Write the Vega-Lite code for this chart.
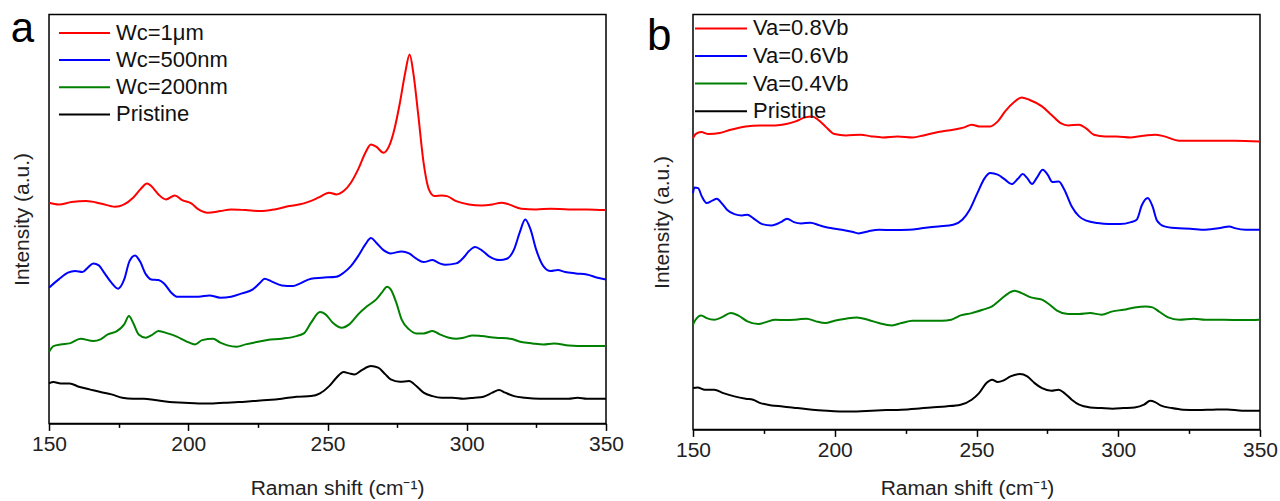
{
"$schema": "https://vega.github.io/schema/vega-lite/v6.json",
"padding": {"left": 10, "top": 7.4, "right": 5, "bottom": 5},
"bounds": "flush",
"spacing": 87,
"background": "white",
"config": {
  "font": "Liberation Sans",
  "view": {"stroke": "#000", "strokeWidth": 1.5},
  "axis": {"grid": false}
},
"resolve": {"scale": {"color": "independent", "y": "independent"}, "legend": {"color": "independent"}},
"datasets": {
"a": [
{"x":150,"y":220.7,"s":"Wc=1μm"},{"x":153.5,"y":219,"s":"Wc=1μm"},{"x":158.1,"y":221.3,"s":"Wc=1μm"},{"x":163.3,"y":222.3,"s":"Wc=1μm"},{"x":168.5,"y":220,"s":"Wc=1μm"},{"x":173.7,"y":216.7,"s":"Wc=1μm"},{"x":180.2,"y":225.7,"s":"Wc=1μm"},{"x":182.8,"y":234,"s":"Wc=1μm"},{"x":185.2,"y":240,"s":"Wc=1μm"},{"x":186.7,"y":237.3,"s":"Wc=1μm"},{"x":189.3,"y":229,"s":"Wc=1μm"},{"x":192,"y":224,"s":"Wc=1μm"},{"x":195.2,"y":228,"s":"Wc=1μm"},{"x":197.8,"y":223.3,"s":"Wc=1μm"},{"x":201.1,"y":220,"s":"Wc=1μm"},{"x":203.7,"y":214,"s":"Wc=1μm"},{"x":206.9,"y":210.7,"s":"Wc=1μm"},{"x":211.5,"y":212.3,"s":"Wc=1μm"},{"x":215.4,"y":214,"s":"Wc=1μm"},{"x":220.6,"y":213.3,"s":"Wc=1μm"},{"x":225.8,"y":212.3,"s":"Wc=1μm"},{"x":231,"y":214,"s":"Wc=1μm"},{"x":236.3,"y":217.3,"s":"Wc=1μm"},{"x":241.5,"y":220,"s":"Wc=1μm"},{"x":246.7,"y":225.7,"s":"Wc=1μm"},{"x":250.6,"y":230.7,"s":"Wc=1μm"},{"x":253.2,"y":229,"s":"Wc=1μm"},{"x":255.8,"y":232.3,"s":"Wc=1μm"},{"x":258.4,"y":240.7,"s":"Wc=1μm"},{"x":261,"y":254,"s":"Wc=1μm"},{"x":263.6,"y":270.7,"s":"Wc=1μm"},{"x":265.6,"y":279,"s":"Wc=1μm"},{"x":267.5,"y":276.7,"s":"Wc=1μm"},{"x":270.1,"y":270.7,"s":"Wc=1μm"},{"x":272.1,"y":277.3,"s":"Wc=1μm"},{"x":274,"y":294,"s":"Wc=1μm"},{"x":276,"y":320.7,"s":"Wc=1μm"},{"x":277.9,"y":350.7,"s":"Wc=1μm"},{"x":279.5,"y":369,"s":"Wc=1μm"},{"x":280.8,"y":350.7,"s":"Wc=1μm"},{"x":282.5,"y":310.7,"s":"Wc=1μm"},{"x":284.5,"y":260.7,"s":"Wc=1μm"},{"x":286.4,"y":234,"s":"Wc=1μm"},{"x":288.4,"y":227.3,"s":"Wc=1μm"},{"x":291,"y":228,"s":"Wc=1μm"},{"x":292.9,"y":227.3,"s":"Wc=1μm"},{"x":296.2,"y":222.3,"s":"Wc=1μm"},{"x":300.8,"y":219,"s":"Wc=1μm"},{"x":305.3,"y":218,"s":"Wc=1μm"},{"x":309.2,"y":219,"s":"Wc=1μm"},{"x":312.5,"y":220.7,"s":"Wc=1μm"},{"x":315.1,"y":219,"s":"Wc=1μm"},{"x":319.6,"y":214.7,"s":"Wc=1μm"},{"x":324.9,"y":214,"s":"Wc=1μm"},{"x":330.1,"y":214.7,"s":"Wc=1μm"},{"x":336.6,"y":214,"s":"Wc=1μm"},{"x":343.1,"y":214,"s":"Wc=1μm"},{"x":350,"y":213.3,"s":"Wc=1μm"},
{"x":150,"y":135.7,"s":"Wc=500nm"},{"x":153.5,"y":144,"s":"Wc=500nm"},{"x":156.8,"y":150.7,"s":"Wc=500nm"},{"x":159.4,"y":152.3,"s":"Wc=500nm"},{"x":162,"y":151.3,"s":"Wc=500nm"},{"x":163.9,"y":155.7,"s":"Wc=500nm"},{"x":165.9,"y":160,"s":"Wc=500nm"},{"x":167.9,"y":158,"s":"Wc=500nm"},{"x":169.8,"y":150.7,"s":"Wc=500nm"},{"x":172.4,"y":140.7,"s":"Wc=500nm"},{"x":174.8,"y":134.7,"s":"Wc=500nm"},{"x":177,"y":144,"s":"Wc=500nm"},{"x":178.9,"y":162.3,"s":"Wc=500nm"},{"x":180.9,"y":168,"s":"Wc=500nm"},{"x":182.6,"y":162.3,"s":"Wc=500nm"},{"x":184.8,"y":149,"s":"Wc=500nm"},{"x":186.7,"y":144,"s":"Wc=500nm"},{"x":189.3,"y":143.3,"s":"Wc=500nm"},{"x":191.3,"y":140,"s":"Wc=500nm"},{"x":193.9,"y":130.7,"s":"Wc=500nm"},{"x":195.9,"y":126.7,"s":"Wc=500nm"},{"x":199.8,"y":126.7,"s":"Wc=500nm"},{"x":203.7,"y":126.7,"s":"Wc=500nm"},{"x":207.6,"y":128,"s":"Wc=500nm"},{"x":211.5,"y":125.7,"s":"Wc=500nm"},{"x":215.4,"y":126.7,"s":"Wc=500nm"},{"x":219.3,"y":130,"s":"Wc=500nm"},{"x":223.2,"y":134,"s":"Wc=500nm"},{"x":225.8,"y":140.7,"s":"Wc=500nm"},{"x":227.4,"y":144.7,"s":"Wc=500nm"},{"x":229.7,"y":142.3,"s":"Wc=500nm"},{"x":233.6,"y":138,"s":"Wc=500nm"},{"x":237.6,"y":137.3,"s":"Wc=500nm"},{"x":240.2,"y":140,"s":"Wc=500nm"},{"x":244.1,"y":144.7,"s":"Wc=500nm"},{"x":248,"y":145.7,"s":"Wc=500nm"},{"x":253.2,"y":146.7,"s":"Wc=500nm"},{"x":255.8,"y":150.7,"s":"Wc=500nm"},{"x":258.4,"y":157.3,"s":"Wc=500nm"},{"x":261,"y":167.3,"s":"Wc=500nm"},{"x":263.6,"y":179,"s":"Wc=500nm"},{"x":265.6,"y":185.3,"s":"Wc=500nm"},{"x":267.5,"y":180.7,"s":"Wc=500nm"},{"x":270.1,"y":173.3,"s":"Wc=500nm"},{"x":272.7,"y":170,"s":"Wc=500nm"},{"x":276.6,"y":172,"s":"Wc=500nm"},{"x":279.3,"y":170,"s":"Wc=500nm"},{"x":281.9,"y":164.7,"s":"Wc=500nm"},{"x":284.5,"y":161.3,"s":"Wc=500nm"},{"x":287.7,"y":163.3,"s":"Wc=500nm"},{"x":290.3,"y":160,"s":"Wc=500nm"},{"x":292.3,"y":158.7,"s":"Wc=500nm"},{"x":296.2,"y":160,"s":"Wc=500nm"},{"x":298.8,"y":165.7,"s":"Wc=500nm"},{"x":300.8,"y":172.3,"s":"Wc=500nm"},{"x":303,"y":176.3,"s":"Wc=500nm"},{"x":305.3,"y":173.3,"s":"Wc=500nm"},{"x":307.9,"y":167.3,"s":"Wc=500nm"},{"x":311.8,"y":163.3,"s":"Wc=500nm"},{"x":314.4,"y":164.7,"s":"Wc=500nm"},{"x":317,"y":174,"s":"Wc=500nm"},{"x":319,"y":190.7,"s":"Wc=500nm"},{"x":321,"y":204,"s":"Wc=500nm"},{"x":322.9,"y":194,"s":"Wc=500nm"},{"x":324.9,"y":174,"s":"Wc=500nm"},{"x":327.5,"y":157.3,"s":"Wc=500nm"},{"x":330.1,"y":152.3,"s":"Wc=500nm"},{"x":332.7,"y":153.3,"s":"Wc=500nm"},{"x":335.3,"y":151.3,"s":"Wc=500nm"},{"x":339.2,"y":150,"s":"Wc=500nm"},{"x":343.1,"y":149,"s":"Wc=500nm"},{"x":347,"y":145.7,"s":"Wc=500nm"},{"x":350,"y":144,"s":"Wc=500nm"},
{"x":150,"y":71.3,"s":"Wc=200nm"},{"x":151.6,"y":77.3,"s":"Wc=200nm"},{"x":154.2,"y":79,"s":"Wc=200nm"},{"x":157.4,"y":80,"s":"Wc=200nm"},{"x":161.3,"y":84.7,"s":"Wc=200nm"},{"x":165.9,"y":82.3,"s":"Wc=200nm"},{"x":168.5,"y":84,"s":"Wc=200nm"},{"x":171.1,"y":89,"s":"Wc=200nm"},{"x":174.4,"y":92.3,"s":"Wc=200nm"},{"x":177,"y":99,"s":"Wc=200nm"},{"x":178.7,"y":107.3,"s":"Wc=200nm"},{"x":180.2,"y":100.7,"s":"Wc=200nm"},{"x":182.2,"y":89,"s":"Wc=200nm"},{"x":184.8,"y":85.7,"s":"Wc=200nm"},{"x":186.7,"y":88,"s":"Wc=200nm"},{"x":189.3,"y":92.3,"s":"Wc=200nm"},{"x":192.6,"y":90,"s":"Wc=200nm"},{"x":195.9,"y":86.7,"s":"Wc=200nm"},{"x":199.1,"y":82.3,"s":"Wc=200nm"},{"x":202.4,"y":79,"s":"Wc=200nm"},{"x":205,"y":83.3,"s":"Wc=200nm"},{"x":208.9,"y":84.7,"s":"Wc=200nm"},{"x":211.5,"y":80.7,"s":"Wc=200nm"},{"x":214.1,"y":78,"s":"Wc=200nm"},{"x":217.4,"y":76.7,"s":"Wc=200nm"},{"x":220.6,"y":79,"s":"Wc=200nm"},{"x":224.5,"y":81.3,"s":"Wc=200nm"},{"x":228.4,"y":83.3,"s":"Wc=200nm"},{"x":233.6,"y":84.7,"s":"Wc=200nm"},{"x":238.9,"y":87.3,"s":"Wc=200nm"},{"x":241.5,"y":90,"s":"Wc=200nm"},{"x":244.1,"y":100.7,"s":"Wc=200nm"},{"x":247.3,"y":111.3,"s":"Wc=200nm"},{"x":249.3,"y":109,"s":"Wc=200nm"},{"x":251.9,"y":100.7,"s":"Wc=200nm"},{"x":255.1,"y":95.7,"s":"Wc=200nm"},{"x":257.8,"y":99,"s":"Wc=200nm"},{"x":261,"y":109,"s":"Wc=200nm"},{"x":264.3,"y":117.3,"s":"Wc=200nm"},{"x":267.5,"y":124,"s":"Wc=200nm"},{"x":269.5,"y":130.7,"s":"Wc=200nm"},{"x":271.4,"y":136.7,"s":"Wc=200nm"},{"x":272.7,"y":134,"s":"Wc=200nm"},{"x":274.7,"y":120.7,"s":"Wc=200nm"},{"x":276.6,"y":104,"s":"Wc=200nm"},{"x":279.3,"y":94,"s":"Wc=200nm"},{"x":281.9,"y":90,"s":"Wc=200nm"},{"x":284.5,"y":90,"s":"Wc=200nm"},{"x":287.7,"y":92.3,"s":"Wc=200nm"},{"x":290.3,"y":89,"s":"Wc=200nm"},{"x":293.6,"y":85.7,"s":"Wc=200nm"},{"x":296.2,"y":84.7,"s":"Wc=200nm"},{"x":298.8,"y":85.7,"s":"Wc=200nm"},{"x":302.1,"y":88,"s":"Wc=200nm"},{"x":305.3,"y":87.3,"s":"Wc=200nm"},{"x":310.5,"y":85.7,"s":"Wc=200nm"},{"x":315.7,"y":84.7,"s":"Wc=200nm"},{"x":319.6,"y":81.3,"s":"Wc=200nm"},{"x":323.6,"y":80,"s":"Wc=200nm"},{"x":327.5,"y":79,"s":"Wc=200nm"},{"x":331.4,"y":80,"s":"Wc=200nm"},{"x":336.6,"y":78,"s":"Wc=200nm"},{"x":343.1,"y":77.3,"s":"Wc=200nm"},{"x":350,"y":77.3,"s":"Wc=200nm"},
{"x":150,"y":40,"s":"Pristine"},{"x":151.6,"y":41.3,"s":"Pristine"},{"x":154.2,"y":40,"s":"Pristine"},{"x":157.4,"y":40,"s":"Pristine"},{"x":160.7,"y":36.7,"s":"Pristine"},{"x":164.6,"y":34,"s":"Pristine"},{"x":168.5,"y":31.3,"s":"Pristine"},{"x":172.4,"y":29,"s":"Pristine"},{"x":176.3,"y":25.7,"s":"Pristine"},{"x":180.2,"y":24.7,"s":"Pristine"},{"x":184.1,"y":24.7,"s":"Pristine"},{"x":188,"y":23.3,"s":"Pristine"},{"x":193.3,"y":21.3,"s":"Pristine"},{"x":198.5,"y":20.7,"s":"Pristine"},{"x":203.7,"y":20,"s":"Pristine"},{"x":208.9,"y":20,"s":"Pristine"},{"x":212.8,"y":20.7,"s":"Pristine"},{"x":218,"y":21.3,"s":"Pristine"},{"x":223.2,"y":22.3,"s":"Pristine"},{"x":228.4,"y":23.3,"s":"Pristine"},{"x":233.6,"y":24.7,"s":"Pristine"},{"x":238.9,"y":26.7,"s":"Pristine"},{"x":244.1,"y":27.3,"s":"Pristine"},{"x":247.3,"y":30,"s":"Pristine"},{"x":250.6,"y":37.3,"s":"Pristine"},{"x":253.2,"y":45.7,"s":"Pristine"},{"x":255.8,"y":51.3,"s":"Pristine"},{"x":257.8,"y":50,"s":"Pristine"},{"x":259.7,"y":49,"s":"Pristine"},{"x":262.3,"y":53.3,"s":"Pristine"},{"x":265.6,"y":57.3,"s":"Pristine"},{"x":268.2,"y":55.7,"s":"Pristine"},{"x":270.8,"y":49,"s":"Pristine"},{"x":272.7,"y":44,"s":"Pristine"},{"x":276,"y":41.7,"s":"Pristine"},{"x":279.3,"y":42.3,"s":"Pristine"},{"x":281.9,"y":37.3,"s":"Pristine"},{"x":284.5,"y":30.7,"s":"Pristine"},{"x":287.7,"y":27.3,"s":"Pristine"},{"x":291,"y":25.7,"s":"Pristine"},{"x":294.9,"y":25.7,"s":"Pristine"},{"x":298.8,"y":24.7,"s":"Pristine"},{"x":302.7,"y":25.7,"s":"Pristine"},{"x":306,"y":26.7,"s":"Pristine"},{"x":309.2,"y":30.7,"s":"Pristine"},{"x":311.6,"y":33.3,"s":"Pristine"},{"x":313.8,"y":30.7,"s":"Pristine"},{"x":317,"y":27.3,"s":"Pristine"},{"x":320.9,"y":25.7,"s":"Pristine"},{"x":326.2,"y":24.7,"s":"Pristine"},{"x":331.4,"y":24.7,"s":"Pristine"},{"x":336.6,"y":24.7,"s":"Pristine"},{"x":339.8,"y":25.7,"s":"Pristine"},{"x":343.1,"y":24.7,"s":"Pristine"},{"x":350,"y":24.7,"s":"Pristine"}
],
"b": [
{"x":150,"y":291.3,"s":"Va=0.8Vb"},{"x":150.9,"y":295.3,"s":"Va=0.8Vb"},{"x":152.9,"y":297.3,"s":"Va=0.8Vb"},{"x":155.5,"y":295.3,"s":"Va=0.8Vb"},{"x":159.4,"y":296.3,"s":"Va=0.8Vb"},{"x":163.3,"y":299.7,"s":"Va=0.8Vb"},{"x":168.6,"y":303,"s":"Va=0.8Vb"},{"x":173.8,"y":304,"s":"Va=0.8Vb"},{"x":179,"y":304,"s":"Va=0.8Vb"},{"x":182.9,"y":305.3,"s":"Va=0.8Vb"},{"x":186.2,"y":308,"s":"Va=0.8Vb"},{"x":189.5,"y":312,"s":"Va=0.8Vb"},{"x":192.1,"y":313,"s":"Va=0.8Vb"},{"x":194.1,"y":309.7,"s":"Va=0.8Vb"},{"x":196.7,"y":303,"s":"Va=0.8Vb"},{"x":199.9,"y":295.3,"s":"Va=0.8Vb"},{"x":203.9,"y":294,"s":"Va=0.8Vb"},{"x":209.1,"y":294.7,"s":"Va=0.8Vb"},{"x":213,"y":293,"s":"Va=0.8Vb"},{"x":216.9,"y":292,"s":"Va=0.8Vb"},{"x":222.2,"y":293,"s":"Va=0.8Vb"},{"x":227.4,"y":292,"s":"Va=0.8Vb"},{"x":231.3,"y":294,"s":"Va=0.8Vb"},{"x":236.5,"y":297.3,"s":"Va=0.8Vb"},{"x":241.8,"y":299.7,"s":"Va=0.8Vb"},{"x":245.7,"y":302,"s":"Va=0.8Vb"},{"x":248.3,"y":304.7,"s":"Va=0.8Vb"},{"x":250.9,"y":303,"s":"Va=0.8Vb"},{"x":254.8,"y":303,"s":"Va=0.8Vb"},{"x":257.5,"y":308,"s":"Va=0.8Vb"},{"x":260.1,"y":318,"s":"Va=0.8Vb"},{"x":263.3,"y":327.3,"s":"Va=0.8Vb"},{"x":265.9,"y":332,"s":"Va=0.8Vb"},{"x":268.6,"y":329.7,"s":"Va=0.8Vb"},{"x":273.1,"y":323,"s":"Va=0.8Vb"},{"x":276.4,"y":314.7,"s":"Va=0.8Vb"},{"x":279.7,"y":306.3,"s":"Va=0.8Vb"},{"x":282.3,"y":304,"s":"Va=0.8Vb"},{"x":286.2,"y":304.7,"s":"Va=0.8Vb"},{"x":288.8,"y":300.7,"s":"Va=0.8Vb"},{"x":291.4,"y":294.7,"s":"Va=0.8Vb"},{"x":295.4,"y":293,"s":"Va=0.8Vb"},{"x":299.3,"y":293,"s":"Va=0.8Vb"},{"x":304.5,"y":292,"s":"Va=0.8Vb"},{"x":309.7,"y":294,"s":"Va=0.8Vb"},{"x":313,"y":294.7,"s":"Va=0.8Vb"},{"x":316.3,"y":293,"s":"Va=0.8Vb"},{"x":321.5,"y":288.7,"s":"Va=0.8Vb"},{"x":326.7,"y":288.7,"s":"Va=0.8Vb"},{"x":333.3,"y":288.7,"s":"Va=0.8Vb"},{"x":341.1,"y":288.7,"s":"Va=0.8Vb"},{"x":350,"y":288,"s":"Va=0.8Vb"},
{"x":150,"y":236.3,"s":"Va=0.6Vb"},{"x":150.5,"y":242,"s":"Va=0.6Vb"},{"x":151.8,"y":241.3,"s":"Va=0.6Vb"},{"x":153.1,"y":233,"s":"Va=0.6Vb"},{"x":154.8,"y":226.3,"s":"Va=0.6Vb"},{"x":156.8,"y":228.7,"s":"Va=0.6Vb"},{"x":158.4,"y":230.7,"s":"Va=0.6Vb"},{"x":160.1,"y":226.3,"s":"Va=0.6Vb"},{"x":162,"y":219.7,"s":"Va=0.6Vb"},{"x":164.6,"y":215.3,"s":"Va=0.6Vb"},{"x":167.3,"y":214,"s":"Va=0.6Vb"},{"x":169.2,"y":214.7,"s":"Va=0.6Vb"},{"x":171.2,"y":211.3,"s":"Va=0.6Vb"},{"x":174.4,"y":205.3,"s":"Va=0.6Vb"},{"x":177.7,"y":204,"s":"Va=0.6Vb"},{"x":181,"y":207.3,"s":"Va=0.6Vb"},{"x":183.2,"y":210.7,"s":"Va=0.6Vb"},{"x":185.6,"y":207.3,"s":"Va=0.6Vb"},{"x":188.2,"y":206,"s":"Va=0.6Vb"},{"x":191.4,"y":206.7,"s":"Va=0.6Vb"},{"x":194.7,"y":204,"s":"Va=0.6Vb"},{"x":198.6,"y":201.3,"s":"Va=0.6Vb"},{"x":202.5,"y":199.7,"s":"Va=0.6Vb"},{"x":206.5,"y":197.3,"s":"Va=0.6Vb"},{"x":208.4,"y":196,"s":"Va=0.6Vb"},{"x":211.7,"y":198,"s":"Va=0.6Vb"},{"x":215.6,"y":199.7,"s":"Va=0.6Vb"},{"x":220.8,"y":199.3,"s":"Va=0.6Vb"},{"x":226.1,"y":199.7,"s":"Va=0.6Vb"},{"x":231.3,"y":201.3,"s":"Va=0.6Vb"},{"x":236.5,"y":203,"s":"Va=0.6Vb"},{"x":241.8,"y":204.7,"s":"Va=0.6Vb"},{"x":245,"y":209.7,"s":"Va=0.6Vb"},{"x":247.6,"y":219.7,"s":"Va=0.6Vb"},{"x":250.3,"y":236.3,"s":"Va=0.6Vb"},{"x":252.9,"y":251.3,"s":"Va=0.6Vb"},{"x":254.8,"y":256.3,"s":"Va=0.6Vb"},{"x":257.5,"y":254.7,"s":"Va=0.6Vb"},{"x":260.1,"y":249.7,"s":"Va=0.6Vb"},{"x":262.4,"y":245.3,"s":"Va=0.6Vb"},{"x":264.6,"y":250.7,"s":"Va=0.6Vb"},{"x":266.3,"y":255.3,"s":"Va=0.6Vb"},{"x":267.9,"y":251.3,"s":"Va=0.6Vb"},{"x":269.6,"y":245.3,"s":"Va=0.6Vb"},{"x":271.2,"y":251.3,"s":"Va=0.6Vb"},{"x":273.4,"y":259.7,"s":"Va=0.6Vb"},{"x":275.1,"y":254.7,"s":"Va=0.6Vb"},{"x":276.8,"y":247.3,"s":"Va=0.6Vb"},{"x":279,"y":248,"s":"Va=0.6Vb"},{"x":281,"y":239.7,"s":"Va=0.6Vb"},{"x":283.6,"y":223,"s":"Va=0.6Vb"},{"x":286.2,"y":213,"s":"Va=0.6Vb"},{"x":288.8,"y":208.7,"s":"Va=0.6Vb"},{"x":292.7,"y":206.3,"s":"Va=0.6Vb"},{"x":296.7,"y":205.3,"s":"Va=0.6Vb"},{"x":300.6,"y":205.3,"s":"Va=0.6Vb"},{"x":304.5,"y":207.3,"s":"Va=0.6Vb"},{"x":306.5,"y":209.7,"s":"Va=0.6Vb"},{"x":308.4,"y":224.7,"s":"Va=0.6Vb"},{"x":310.4,"y":231.3,"s":"Va=0.6Vb"},{"x":312.1,"y":223,"s":"Va=0.6Vb"},{"x":313.7,"y":208.7,"s":"Va=0.6Vb"},{"x":316.3,"y":203,"s":"Va=0.6Vb"},{"x":320.2,"y":201.3,"s":"Va=0.6Vb"},{"x":325.4,"y":200.7,"s":"Va=0.6Vb"},{"x":330.7,"y":199.7,"s":"Va=0.6Vb"},{"x":335.9,"y":201.3,"s":"Va=0.6Vb"},{"x":339.2,"y":203,"s":"Va=0.6Vb"},{"x":341.1,"y":201.3,"s":"Va=0.6Vb"},{"x":345,"y":199.7,"s":"Va=0.6Vb"},{"x":350,"y":199.7,"s":"Va=0.6Vb"},
{"x":150,"y":104.7,"s":"Va=0.4Vb"},{"x":150.9,"y":109.7,"s":"Va=0.4Vb"},{"x":152.9,"y":114,"s":"Va=0.4Vb"},{"x":154.8,"y":111.3,"s":"Va=0.4Vb"},{"x":157.5,"y":109.7,"s":"Va=0.4Vb"},{"x":160.1,"y":112,"s":"Va=0.4Vb"},{"x":163.3,"y":116.3,"s":"Va=0.4Vb"},{"x":165.9,"y":114,"s":"Va=0.4Vb"},{"x":169.2,"y":108,"s":"Va=0.4Vb"},{"x":173.1,"y":105.3,"s":"Va=0.4Vb"},{"x":175.8,"y":107.3,"s":"Va=0.4Vb"},{"x":179,"y":109.7,"s":"Va=0.4Vb"},{"x":182.9,"y":109.3,"s":"Va=0.4Vb"},{"x":186.9,"y":110,"s":"Va=0.4Vb"},{"x":190.1,"y":110.7,"s":"Va=0.4Vb"},{"x":193.4,"y":108,"s":"Va=0.4Vb"},{"x":196.7,"y":106.3,"s":"Va=0.4Vb"},{"x":199.9,"y":108.7,"s":"Va=0.4Vb"},{"x":203.9,"y":110.7,"s":"Va=0.4Vb"},{"x":207.8,"y":112,"s":"Va=0.4Vb"},{"x":211.7,"y":109.7,"s":"Va=0.4Vb"},{"x":215.6,"y":106.3,"s":"Va=0.4Vb"},{"x":220.2,"y":104,"s":"Va=0.4Vb"},{"x":223.5,"y":106.3,"s":"Va=0.4Vb"},{"x":227.4,"y":108.7,"s":"Va=0.4Vb"},{"x":232.6,"y":108.7,"s":"Va=0.4Vb"},{"x":237.8,"y":108.7,"s":"Va=0.4Vb"},{"x":241.1,"y":109.7,"s":"Va=0.4Vb"},{"x":244.4,"y":114,"s":"Va=0.4Vb"},{"x":248.3,"y":116.3,"s":"Va=0.4Vb"},{"x":252.2,"y":119.7,"s":"Va=0.4Vb"},{"x":255.5,"y":123,"s":"Va=0.4Vb"},{"x":258.8,"y":130.7,"s":"Va=0.4Vb"},{"x":261.4,"y":136.3,"s":"Va=0.4Vb"},{"x":263.3,"y":138.7,"s":"Va=0.4Vb"},{"x":265.9,"y":136.3,"s":"Va=0.4Vb"},{"x":269.2,"y":132,"s":"Va=0.4Vb"},{"x":273.1,"y":129.7,"s":"Va=0.4Vb"},{"x":275.8,"y":124.7,"s":"Va=0.4Vb"},{"x":278.4,"y":118.7,"s":"Va=0.4Vb"},{"x":282.3,"y":115.3,"s":"Va=0.4Vb"},{"x":286.2,"y":115.3,"s":"Va=0.4Vb"},{"x":290.1,"y":116.3,"s":"Va=0.4Vb"},{"x":294.1,"y":114.7,"s":"Va=0.4Vb"},{"x":298,"y":118,"s":"Va=0.4Vb"},{"x":301.9,"y":119.7,"s":"Va=0.4Vb"},{"x":305.8,"y":122,"s":"Va=0.4Vb"},{"x":309.7,"y":123,"s":"Va=0.4Vb"},{"x":312.1,"y":122,"s":"Va=0.4Vb"},{"x":314.3,"y":118,"s":"Va=0.4Vb"},{"x":317.6,"y":112,"s":"Va=0.4Vb"},{"x":321.5,"y":109.7,"s":"Va=0.4Vb"},{"x":326.7,"y":110.7,"s":"Va=0.4Vb"},{"x":330.7,"y":109.7,"s":"Va=0.4Vb"},{"x":337.2,"y":109.7,"s":"Va=0.4Vb"},{"x":343.7,"y":109.3,"s":"Va=0.4Vb"},{"x":350,"y":109.7,"s":"Va=0.4Vb"},
{"x":150,"y":41.3,"s":"Pristine"},{"x":151.6,"y":42,"s":"Pristine"},{"x":154.2,"y":39.7,"s":"Pristine"},{"x":157.5,"y":39.7,"s":"Pristine"},{"x":160.7,"y":36.3,"s":"Pristine"},{"x":164.6,"y":33,"s":"Pristine"},{"x":168.6,"y":30.7,"s":"Pristine"},{"x":171.2,"y":29.7,"s":"Pristine"},{"x":173.8,"y":26.3,"s":"Pristine"},{"x":177.7,"y":24,"s":"Pristine"},{"x":181.6,"y":23,"s":"Pristine"},{"x":186.9,"y":21.3,"s":"Pristine"},{"x":192.1,"y":19.7,"s":"Pristine"},{"x":197.3,"y":18.7,"s":"Pristine"},{"x":202.5,"y":18,"s":"Pristine"},{"x":207.8,"y":18,"s":"Pristine"},{"x":213,"y":18.7,"s":"Pristine"},{"x":218.2,"y":19.3,"s":"Pristine"},{"x":223.5,"y":19.7,"s":"Pristine"},{"x":228.7,"y":20.7,"s":"Pristine"},{"x":233.9,"y":22,"s":"Pristine"},{"x":239.1,"y":23,"s":"Pristine"},{"x":244.4,"y":24.7,"s":"Pristine"},{"x":248.3,"y":29.7,"s":"Pristine"},{"x":250.9,"y":36.3,"s":"Pristine"},{"x":253.5,"y":46.3,"s":"Pristine"},{"x":255.5,"y":49.7,"s":"Pristine"},{"x":257.5,"y":47.3,"s":"Pristine"},{"x":259.4,"y":48.7,"s":"Pristine"},{"x":262,"y":53,"s":"Pristine"},{"x":265.3,"y":55.3,"s":"Pristine"},{"x":267.9,"y":53,"s":"Pristine"},{"x":270.5,"y":46.3,"s":"Pristine"},{"x":273.1,"y":41.3,"s":"Pristine"},{"x":276.4,"y":38.7,"s":"Pristine"},{"x":279,"y":39.7,"s":"Pristine"},{"x":281,"y":36.3,"s":"Pristine"},{"x":283.6,"y":29.7,"s":"Pristine"},{"x":286.2,"y":24.7,"s":"Pristine"},{"x":290.1,"y":22,"s":"Pristine"},{"x":294.1,"y":21.3,"s":"Pristine"},{"x":298,"y":20.7,"s":"Pristine"},{"x":301.9,"y":21.3,"s":"Pristine"},{"x":305.8,"y":22,"s":"Pristine"},{"x":309.1,"y":24.7,"s":"Pristine"},{"x":311.3,"y":28.7,"s":"Pristine"},{"x":313,"y":27.3,"s":"Pristine"},{"x":314.9,"y":24,"s":"Pristine"},{"x":318.9,"y":21.3,"s":"Pristine"},{"x":322.8,"y":19.7,"s":"Pristine"},{"x":328,"y":19.3,"s":"Pristine"},{"x":333.3,"y":19.7,"s":"Pristine"},{"x":338.5,"y":20,"s":"Pristine"},{"x":343.7,"y":18.7,"s":"Pristine"},{"x":350,"y":18.7,"s":"Pristine"}
]
},
"hconcat": [
{
  "width": 557, "height": 409,
  "layer": [
  {
  "data": {"name": "a"},
  "mark": {"type": "line", "strokeWidth": 2, "interpolate": "monotone"},
  "encoding": {
    "x": {"field": "x", "type": "quantitative", "scale": {"domain": [150, 350], "nice": false, "zero": false},
      "axis": {"title": "Raman shift (cm⁻¹)", "values": [150,175,200,225,250,275,300,325,350],
        "labelExpr": "datum.value % 50 === 0 ? datum.label : ''", "labelFlush": false, "labelOverlap": false,
        "tickSize": {"condition": {"test": "datum.value % 50 === 0", "value": 7}, "value": 4},
        "tickColor": "#000", "tickWidth": 1.5, "domainColor": "#000", "domainWidth": 1.5,
        "labelFont": "Liberation Sans", "labelFontSize": 21, "labelColor": "#222", "labelPadding": 3,
        "titleFont": "Liberation Sans", "titleFontSize": 21, "titleFontWeight": "normal", "titleColor": "#222",
        "titleX": 288, "titleY": 71, "titleBaseline": "alphabetic", "titleAlign": "center"}},
    "y": {"field": "y", "type": "quantitative", "scale": {"domain": [0, 409], "nice": false},
      "axis": {"title": "Intensity (a.u.)", "domain": false, "ticks": false, "labels": false, "titleFont": "Liberation Sans", "titleFontSize": 21, "titleFontWeight": "normal", "titleColor": "#222", "titlePadding": 17}},
    "color": {"field": "s", "type": "nominal",
      "scale": {"domain": ["Wc=1μm", "Wc=500nm", "Wc=200nm", "Pristine"], "range": ["#ff0000", "#0000ff", "#008000", "#000000"]},
      "legend": {"orient": "none", "legendX": 9, "legendY": 7.5, "title": null, "symbolType": "stroke", "symbolSize": 2601, "symbolStrokeWidth": 2, "labelFont": "Liberation Sans", "labelFontSize": 22, "labelColor": "#111", "labelOffset": 5, "clipHeight": 22, "rowPadding": 5.2, "padding": 0}}
  }
  },
  {
  "data": {"values": [{"panel": "a"}]},
  "mark": {"type": "text", "fontSize": 42, "font": "Liberation Sans", "align": "left", "baseline": "alphabetic", "color": "#000"},
  "encoding": {"text": {"field": "panel"}, "x": {"datum": 136.3}, "y": {"datum": 381}}
  }
  ]
},
{
  "width": 567, "height": 415,
  "layer": [
  {
  "data": {"name": "b"},
  "mark": {"type": "line", "strokeWidth": 2, "interpolate": "monotone"},
  "encoding": {
    "x": {"field": "x", "type": "quantitative", "scale": {"domain": [150, 350], "nice": false, "zero": false},
      "axis": {"title": "Raman shift (cm⁻¹)", "values": [150,175,200,225,250,275,300,325,350],
        "labelExpr": "datum.value % 50 === 0 ? datum.label : ''", "labelFlush": false, "labelOverlap": false,
        "tickSize": {"condition": {"test": "datum.value % 50 === 0", "value": 7}, "value": 4},
        "tickColor": "#000", "tickWidth": 1.5, "domainColor": "#000", "domainWidth": 1.5,
        "labelFont": "Liberation Sans", "labelFontSize": 21, "labelColor": "#222", "labelPadding": 3,
        "titleFont": "Liberation Sans", "titleFontSize": 21, "titleFontWeight": "normal", "titleColor": "#222",
        "titleX": 274, "titleY": 65, "titleBaseline": "alphabetic", "titleAlign": "center"}},
    "y": {"field": "y", "type": "quantitative", "scale": {"domain": [0, 415], "nice": false},
      "axis": {"title": "Intensity (a.u.)", "domain": false, "ticks": false, "labels": false, "titleFont": "Liberation Sans", "titleFontSize": 21, "titleFontWeight": "normal", "titleColor": "#222", "titlePadding": 20}},
    "color": {"field": "s", "type": "nominal",
      "scale": {"domain": ["Va=0.8Vb", "Va=0.6Vb", "Va=0.4Vb", "Pristine"], "range": ["#ff0000", "#0000ff", "#008000", "#000000"]},
      "legend": {"orient": "none", "legendX": 1, "legendY": 3, "title": null, "symbolType": "stroke", "symbolSize": 2704, "symbolStrokeWidth": 2, "labelFont": "Liberation Sans", "labelFontSize": 22, "labelColor": "#111", "labelOffset": 5, "clipHeight": 22, "rowPadding": 5.6, "padding": 0}}
  }
  },
  {
  "data": {"values": [{"panel": "b"}]},
  "mark": {"type": "text", "fontSize": 44, "font": "Liberation Sans", "align": "left", "baseline": "alphabetic", "color": "#000"},
  "encoding": {"text": {"field": "panel"}, "x": {"datum": 133.8}, "y": {"datum": 379}}
  }
  ]
}
]
}
